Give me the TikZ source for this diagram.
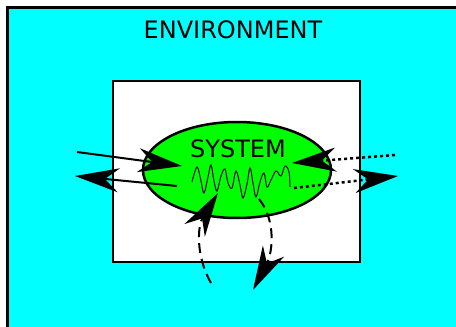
\documentclass[tikz,border=0pt]{standalone}
\usepackage{fontspec}
\setmainfont{DejaVu Sans}
\usetikzlibrary{shapes.geometric, arrows.meta, positioning}
\definecolor{envcyan}{RGB}{0,255,255}
\definecolor{sysgreen}{RGB}{0,255,0}

\begin{document}
\begin{tikzpicture}[x=1pt, y=-1pt]
    \tikzstyle{envbox} = [rectangle, draw=black, fill=envcyan, line width=3pt]
    \tikzstyle{sysbox} = [rectangle, draw=black, fill=white, line width=2.5pt, minimum width=247pt, minimum height=181pt, inner sep=0pt]
    \tikzstyle{system} = [ellipse, draw=black, fill=sysgreen, line width=2.5pt, minimum width=188pt, minimum height=96pt, inner sep=0pt]
    \tikzstyle{label} = [font=\fontsize{24}{28}\selectfont, inner sep=0pt]
    \tikzstyle{flow} = [line width=2pt, -{Stealth[length=44pt, width=24pt, inset=14pt]}]
    \tikzstyle{dotflow} = [flow, line width=2.5pt, dash pattern=on 3pt off 3pt]
    \tikzstyle{loopflow} = [flow, dash pattern=on 10pt off 6pt]

    \useasboundingbox (0,0) rectangle (456,327);
    \fill[white] (0,0) rectangle (456,327);
    \draw[envbox] (7.5,7.5) rectangle (470,328);

    \node[label] (envlabel) at (233,30) {ENVIRONMENT};
    \node[sysbox] (box) at (236.5,171.5) {};
    \node[system] (sys) at (237,170) {};
    \node[label] (syslabel) at (238,149) {SYSTEM};

    % inner activity
    \draw[line width=1pt] plot[smooth, tension=0.6] coordinates {
        (192,182) (197,167) (201,181) (204,193) (208,177) (211,165)
        (214,181) (217,191) (221,176) (225,169) (228,183) (232,188)
        (236,171) (240,185) (243,198) (247,184) (250,168) (253,183)
        (256,197) (260,182) (264,173) (267,187) (271,180) (276,171)
        (281,176) (285,166) (289,172) (290,187)};

    % inputs and outputs
    \coordinate (in1) at (77,152);
    \coordinate (in1tip) at (182,166);
    \coordinate (out1) at (177,186);
    \coordinate (out1tip) at (75,176);
    \coordinate (in2) at (395,155);
    \coordinate (in2tip) at (292,163);
    \coordinate (out2) at (294,188);
    \coordinate (out2tip) at (398,176);
    \draw[flow] (in1) -- (in1tip);
    \draw[flow] (out1) -- (out1tip);
    \draw[dotflow] (in2) -- (in2tip);
    \draw[dotflow] (out2) -- (out2tip);

    % feedback loop
    \coordinate (fbin) at (211,283);
    \coordinate (fbintip) at (218,193);
    \coordinate (fbout) at (259,199);
    \coordinate (fbouttip) at (253,290);
    \draw[loopflow] (fbin) .. controls (195,255) and (198,225) .. (fbintip);
    \draw[loopflow] (fbout) .. controls (276,220) and (273,252) .. (fbouttip);
\end{tikzpicture}
\end{document}
